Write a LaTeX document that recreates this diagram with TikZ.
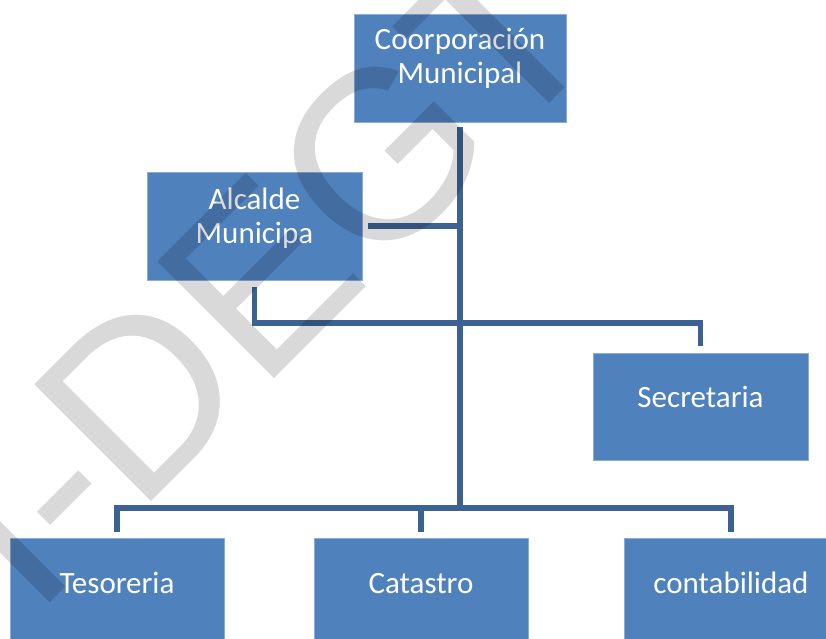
\documentclass[tikz,border=0pt]{standalone}
\usepackage{fontspec}
\setmainfont{Carlito}
\newfontfamily\wmfont{Liberation Sans}
\definecolor{boxblue}{RGB}{79,129,189}
\definecolor{boxedge}{RGB}{140,172,214}
\definecolor{linkblue}{RGB}{60,98,148}
\begin{document}
\begin{tikzpicture}[x=1pt,y=-1pt,
  orgbox/.style={rectangle, fill=boxblue, draw=boxedge, line width=0.8pt,
    minimum width=214pt, minimum height=107pt, inner sep=0pt, text=white,
    font=\fontsize{31}{34}\selectfont},
  link/.style={draw=linkblue, line width=5.5pt, line join=miter},
  watermark/.style={rotate=45, anchor=base west, inner sep=0pt, text=black,
    text opacity=0.15, font=\wmfont\fontsize{240}{240}\selectfont}]
\clip (0,0) rectangle (826,638);
\fill[white] (0,0) rectangle (826,638);

% boxes
\node[orgbox, minimum width=212pt, minimum height=108pt] (corp) at (460,68)
  {\raisebox{-15pt}[0pt][0pt]{\begin{tabular}[b]{@{}c@{}}Coorporación\\Municipal\end{tabular}}};
\node[orgbox, minimum width=215pt, minimum height=108pt] (alc) at (254.5,226)
  {\raisebox{-17pt}[0pt][0pt]{\begin{tabular}[b]{@{}c@{}}Alcalde\\Municipa\end{tabular}}};
\node[orgbox, minimum width=215pt] (sec) at (700.5,406.5)
  {\raisebox{-1pt}[0pt][0pt]{Secretaria}};
\node[orgbox] (tes) at (117,591.5) {\raisebox{-1.5pt}[0pt][0pt]{Tesoreria}};
\node[orgbox] (cat) at (421,591.5) {\raisebox{-1.5pt}[0pt][0pt]{Catastro}};
\node[orgbox] (con) at (731,591.5) {\raisebox{-1.5pt}[0pt][0pt]{contabilidad}};

% junctions
\coordinate (j1) at (460,226);
\coordinate (h1) at (460,323);
\coordinate (busC) at (460,508);

% connectors
\draw[link] ([yshift=-5pt]corp.south) -- (busC);
\draw[link] ([xshift=6pt]alc.east) -- (j1);
\draw[link] ([yshift=-7pt]alc.south) |- (h1) -| ([yshift=7pt]sec.north);
\draw[link] ([yshift=6pt]tes.north) |- (busC) -| ([yshift=6pt]con.north);
\draw[link] (busC) -| ([yshift=6pt]cat.north);

% watermark
\node[watermark] (wm) at (34,619) {I-DEGT};
\end{tikzpicture}
\end{document}
